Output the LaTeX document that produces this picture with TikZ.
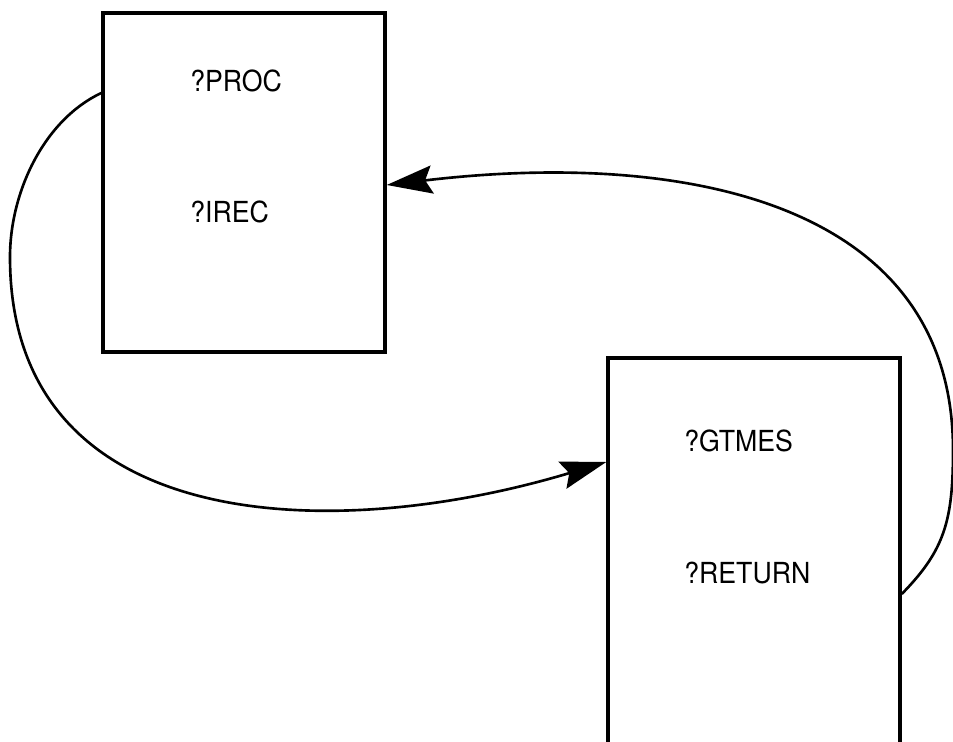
\documentclass[tikz,border=0pt]{standalone}
\usepackage{fontspec}
\setmainfont{TeX Gyre Heros}[FakeStretch=0.92]
\usetikzlibrary{arrows.meta}
\begin{document}
\begin{tikzpicture}[x=0.02cm,y=-0.02cm,
	progbox/.style={draw,line width=2pt,inner sep=0pt},
	entry/.style={anchor=west,inner sep=0pt,font=\fontsize{16.5}{19}\selectfont},
	flow/.style={line width=1.5pt,-{Stealth[length=26pt,width=16pt,inset=4pt]}}]
	\useasboundingbox (0,0) rectangle (953,742);
	\node[progbox,minimum width=5.64cm,minimum height=6.78cm] (caller) at (244,182.5) {};
	\node[progbox,minimum width=5.84cm,minimum height=8.04cm] (server) at (754,559) {};
	\node[entry] (proc) at (190,81) {?PROC};
	\node[entry] (irec) at (190,212) {?IREC};
	\node[entry] (gtmes) at (684,441) {?GTMES};
	\node[entry] (return) at (684,573) {?RETURN};
	\coordinate (callout) at (caller.west |- 0,93);
	\coordinate (callin) at (server.west |- 0,462);
	\coordinate (retout) at (server.east |- 0,594);
	\coordinate (retin) at (caller.east |- 0,185);
	\draw[flow] (callout) .. controls (44,120) and (10,192) .. (10,257)
		.. controls (10,535) and (330,545) .. (callin);
	\draw[flow] (retout) .. controls (945,550) and (953,520) .. (953,450)
		.. controls (953,200) and (680,150) .. (retin);
\end{tikzpicture}
\end{document}
